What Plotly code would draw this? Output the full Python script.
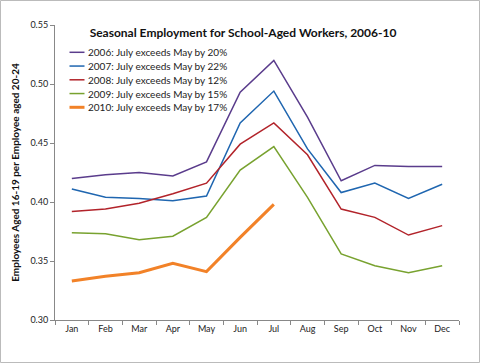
import plotly.graph_objects as go

months = ["Jan", "Feb", "Mar", "Apr", "May", "Jun", "Jul", "Aug", "Sep", "Oct", "Nov", "Dec"]
s2006 = [0.420, 0.423, 0.425, 0.422, 0.434, 0.493, 0.520, 0.472, 0.418, 0.431, 0.430, 0.430]
s2007 = [0.411, 0.404, 0.403, 0.401, 0.405, 0.467, 0.494, 0.445, 0.408, 0.416, 0.403, 0.415]
s2008 = [0.392, 0.394, 0.399, 0.407, 0.416, 0.449, 0.467, 0.440, 0.394, 0.387, 0.372, 0.380]
s2009 = [0.374, 0.373, 0.368, 0.371, 0.387, 0.427, 0.447, 0.404, 0.356, 0.346, 0.340, 0.346]
s2010 = [0.333, 0.337, 0.340, 0.348, 0.341, 0.370, 0.398]

series = [
    ("2006: July exceeds May by 20%", s2006, "#5a3c8c", 1.5),
    ("2007: July exceeds May by 22%", s2007, "#1f66b0", 1.5),
    ("2008: July exceeds May by 12%", s2008, "#b2232a", 1.5),
    ("2009: July exceeds May by 15%", s2009, "#78a22f", 1.5),
    ("2010: July exceeds May by 17%", s2010, "#f28228", 3),
]

fig = go.Figure()
for name, vals, color, w in series:
    fig.add_trace(go.Scatter(x=months[:len(vals)], y=vals, name=name, mode="lines",
                             line=dict(color=color, width=w), showlegend=False))

W, H = 480, 363
L, R, T, B = 55, 21, 25, 43
pw, ph = W - L - R, H - T - B

def px(x):
    return (x - L) / pw

def py(y):
    return 1 - (y - T) / ph

shapes = [dict(type="rect", xref="paper", yref="paper",
               x0=px(0.5), x1=px(W - 0.5), y0=py(H - 0.5), y1=py(0.5),
               line=dict(color="#bbb", width=1), fillcolor="rgba(0,0,0,0)", layer="below")]
annotations = []
leg_y0, leg_dy = 52.3, 13.75
for i, (name, vals, color, w) in enumerate(series):
    yy = py(leg_y0 + i * leg_dy)
    shapes.append(dict(type="line", xref="paper", yref="paper", x0=px(69.5), x1=px(84.5),
                       y0=yy, y1=yy, line=dict(color=color, width=w)))
    annotations.append(dict(xref="paper", yref="paper", x=px(85.5), y=yy, text=name,
                            showarrow=False, xanchor="left", yanchor="middle",
                            font=dict(size=10, color="#222")))

fig.update_layout(
    width=W, height=H,
    margin=dict(l=L, r=R, t=T, b=B),
    paper_bgcolor="white", plot_bgcolor="white",
    font=dict(family="Lato, Open Sans, sans-serif", size=10, color="#222"),
    title=dict(text="<b>Seasonal Employment for School-Aged Workers, 2006-10</b>",
               x=243 / W, xanchor="center", y=1 - 33 / H, yanchor="middle",
               font=dict(size=12, color="#111")),
    xaxis=dict(type="category", categoryorder="array", categoryarray=months,
               range=[-0.5, 11.5], showline=True, linecolor="#888", linewidth=1,
               ticks="outside", tickson="boundaries", ticklen=4, tickcolor="#888",
               showgrid=False, zeroline=False, tickfont=dict(size=9)),
    yaxis=dict(range=[0.30, 0.55], dtick=0.05, tickformat=".2f", showline=True,
               linecolor="#888", linewidth=1, ticks="outside", ticklen=4, tickcolor="#888",
               showgrid=False, zeroline=False, tickfont=dict(size=9),
               title=dict(text="<b>Employees Aged 16-19 per Employee aged 20-24</b>",
                          font=dict(size=10, color="#111"), standoff=8)),
    shapes=shapes,
    annotations=annotations,
)

fig.write_html("out.html", config={"displayModeBar": False},
               post_script="document.body.style.margin='0';")
